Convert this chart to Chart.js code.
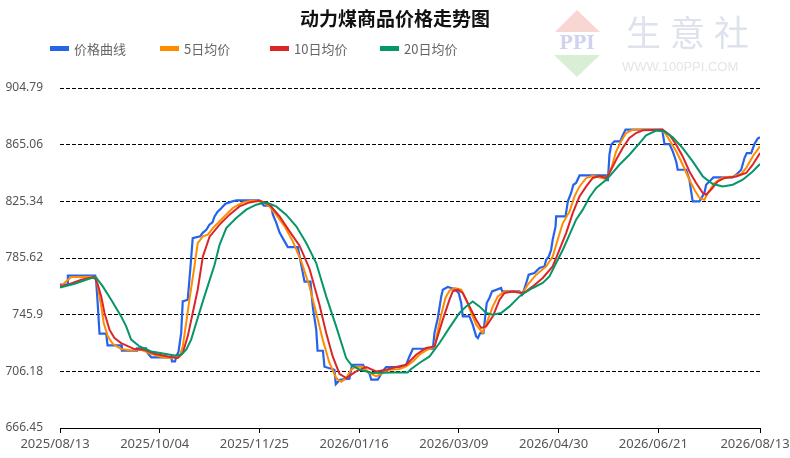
<!DOCTYPE html>
<html>
<head>
<meta charset="utf-8">
<script src="https://cdn.jsdelivr.net/npm/chart.js@4"></script>
<style>
  html, body { margin: 0; padding: 0; background: #fff; }
  #wrap { width: 790px; height: 458px; position: relative; }
</style>
</head>
<body>
<div id="wrap"><canvas id="coalChart"></canvas></div>
<script>
// Values: [day since 2025/08/13, price]
const xTickDays = [0, 52, 104, 156, 208, 260, 312, 365];
const xTickLabels = ['2025/08/13', '2025/10/04', '2025/11/25', '2026/01/16', '2026/03/09', '2026/04/30', '2026/06/21', '2026/08/13'];
const yTickValues = [666.45, 706.18, 745.9, 785.62, 825.34, 865.06, 904.79];
const yTickLabels = ['666.45', '706.18', '745.9', '785.62', '825.34', '865.06', '904.79'];

const seriesNames = ['价格曲线', '5日均价', '10日均价', '20日均价'];

const pricePoints = [
  [0,766.9],[4.1,766.9],[4.1,773.2],[18.4,773.2],[18.8,770.4],[19.7,752.9],[20.6,732.6],[24.1,732.6],
  [24.8,724.4],[31.9,724.4],[32.3,720.6],[39.7,720.6],[40.1,722.3],[44.9,722.3],[45.6,719.2],[47.6,716.0],
  [58.0,716.0],[58.4,713.1],[60.0,713.1],[60.6,716.6],[61.8,719.9],[63.2,733.3],[64.0,755.2],[66.6,756.4],
  [68.0,778.8],[69.2,799.6],[73.1,800.8],[74.3,803.1],[76.4,805.5],[77.9,809.0],[79.5,810.6],[80.6,814.8],
  [82.1,817.9],[84.2,820.7],[86.3,823.7],[89.9,825.3],[92.0,826.0],[104.0,826.0],[106.3,822.3],[110.1,822.3],
  [111.0,816.0],[112.7,810.6],[114.5,803.4],[117.1,797.3],[118.8,793.3],[124.0,793.3],[125.8,780.9],[127.5,769.0],
  [130.6,769.0],[131.8,751.5],[133.6,735.4],[134.3,720.6],[137.1,720.6],[137.9,709.4],[143.1,707.3],[143.8,697.2],
  [146.0,700.3],[150.9,701.0],[152.3,710.8],[158.0,710.8],[159.5,707.3],[161.4,704.5],[162.3,700.3],[165.7,700.3],
  [167.5,704.5],[169.2,707.8],[170.1,709.2],[178.7,709.2],[180.5,710.8],[182.2,716.6],[184.0,722.0],[194.4,722.0],
  [195.3,733.3],[197.0,743.6],[198.8,758.7],[199.6,763.4],[202.2,765.3],[204.0,764.6],[205.7,763.9],[207.9,761.1],
  [209.2,754.1],[210.0,744.7],[213.5,744.7],[215.2,738.9],[217.0,730.7],[217.9,729.5],[219.1,733.0],[220.8,733.0],
  [222.5,754.1],[223.9,757.6],[225.3,762.2],[230.0,764.6],[230.6,762.2],[239.6,762.2],[241.0,759.9],[241.7,762.2],
  [243.1,768.1],[244.4,773.9],[247.4,775.1],[250.0,778.6],[252.6,779.7],[253.5,784.4],[254.9,786.7],[256.1,791.4],
  [256.9,798.4],[258.4,807.8],[258.7,814.8],[263.6,814.8],[264.8,825.3],[266.5,831.2],[267.7,837.0],[269.1,838.2],
  [270.9,843.5],[284.8,843.5],[285.2,840.2],[285.7,840.2],[286.5,858.0],[287.4,865.0],[289.1,867.4],[292.1,867.4],
  [293.4,871.6],[294.9,875.6],[314.0,875.6],[315.2,865.5],[317.8,865.5],[319.5,860.4],[321.3,853.3],[322.1,847.5],
  [326.5,847.5],[328.2,840.5],[329.1,832.3],[329.9,825.3],[333.4,825.3],[336.0,831.2],[336.9,837.0],[339.5,840.5],
  [340.7,842.1],[350.8,842.1],[352.6,844.0],[355.2,847.5],[356.9,855.7],[358.1,859.2],[360.4,859.2],[362.1,865.5],
  [363.8,869.3],[365,870.3]
];

const ma5Points = [
  [0,765.5],[2.3,768.1],[5.8,772.3],[18.0,772.5],[19.4,768.1],[21.5,751.7],[22.8,740.1],[24.9,730.7],
  [27.5,725.5],[31.9,721.8],[37.1,720.8],[42.3,721.3],[47.6,718.5],[52.8,716.2],[58.0,715.5],[62.3,716.6],
  [64.0,723.6],[65.8,740.1],[67.5,756.4],[70.1,779.7],[71.8,796.1],[74.5,800.8],[77.1,802.0],[79.7,806.6],
  [84.9,813.7],[90.1,820.7],[95.3,824.6],[100.5,826.0],[105.7,825.1],[109.2,821.8],[112.7,816.0],[117.1,807.8],
  [121.4,797.3],[125.8,783.3],[130.1,765.7],[133.6,747.1],[137.0,728.4],[140.5,712.0],[144.0,701.5],[146.6,698.9],
  [149.2,701.3],[151.8,707.3],[154.4,709.6],[157.9,709.2],[161.4,705.0],[164.9,702.6],[168.3,705.0],[171.8,707.3],
  [177.0,707.8],[180.5,709.6],[184.0,713.1],[187.4,717.8],[190.9,720.9],[195.3,723.6],[197.1,735.4],[198.4,743.8],
  [201.0,757.8],[203.1,762.7],[205.7,764.6],[209.2,763.4],[211.8,756.4],[214.4,747.1],[217.0,738.9],[220.4,733.1],
  [223.1,742.4],[225.7,751.7],[228.3,758.7],[231.8,762.2],[237.9,762.2],[241.3,761.1],[243.9,766.9],[248.3,773.9],
  [253.5,779.7],[256.9,786.7],[259.5,798.4],[262.2,810.1],[265.7,818.3],[268.3,828.8],[270.9,835.8],[274.4,841.7],
  [277.8,843.3],[284.8,841.0],[287.5,848.7],[290.0,860.4],[292.6,867.4],[295.2,873.2],[298.7,875.6],[313.5,875.6],
  [316.1,872.1],[318.7,866.2],[321.3,860.4],[324.7,851.0],[328.2,840.5],[330.8,833.5],[333.5,827.7],[336.0,826.5],
  [337.8,831.2],[341.3,838.2],[345.6,842.1],[350.8,842.8],[355.2,844.5],[357.8,848.7],[361.2,856.8],[365,863.9]
];

const ma10Points = [
  [0,765.7],[4.1,766.9],[11.1,770.4],[18.0,772.3],[19.7,766.9],[21.5,758.7],[23.2,747.1],[25.8,735.4],
  [28.4,729.5],[31.9,726.0],[38.8,721.8],[44.1,721.3],[49.3,718.5],[56.2,716.6],[61.4,715.5],[64.0,719.0],
  [66.6,730.7],[69.2,747.1],[71.8,763.4],[74.5,786.7],[78.0,800.6],[83.2,809.0],[88.4,816.0],[93.6,821.8],
  [98.8,824.6],[104.0,825.8],[109.2,823.0],[114.5,814.8],[119.7,804.3],[124.9,794.3],[130.1,778.1],[135.3,752.9],
  [138.8,733.1],[142.2,716.6],[145.7,704.5],[149.2,701.5],[154.4,706.1],[159.7,709.1],[164.9,706.1],[170.1,707.3],
  [175.3,709.2],[180.5,710.8],[185.7,717.8],[190.9,722.5],[195.3,723.6],[199.6,742.4],[203.1,756.4],[204.8,762.2],
  [207.4,763.4],[210.0,761.1],[213.5,751.7],[217.0,742.4],[219.6,736.6],[222.2,737.7],[225.7,744.7],[229.2,756.4],
  [231.8,761.1],[236.1,762.2],[240.5,761.1],[243.1,762.2],[246.5,765.7],[251.7,771.6],[256.9,779.7],[260.4,791.4],
  [263.9,803.1],[267.4,817.2],[270.9,828.8],[274.4,835.8],[277.8,841.7],[281.3,843.0],[284.8,841.7],[286.5,845.2],
  [290.0,854.5],[293.4,862.7],[296.9,869.7],[300.4,873.2],[303.9,875.1],[314.3,875.6],[317.8,872.1],[321.3,865.0],
  [324.7,856.8],[328.2,846.3],[331.7,838.2],[335.2,831.2],[336.9,830.0],[339.5,833.5],[343.0,839.3],[346.4,841.7],
  [352.6,842.8],[357.8,845.2],[361.2,851.0],[365,859.2]
];

const ma20Points = [
  [0,765.0],[7.6,767.6],[16.3,771.6],[18.9,771.8],[22.3,765.7],[26.7,756.4],[31.9,744.7],[34.5,737.7],
  [37.1,728.4],[41.5,723.6],[47.6,720.1],[54.5,718.5],[59.7,717.3],[63.2,717.8],[65.8,721.3],[68.4,728.4],
  [71.8,743.6],[75.3,758.7],[80.6,780.9],[83.2,794.9],[86.7,806.6],[91.9,813.7],[97.1,819.5],[102.3,823.0],
  [107.5,824.6],[112.7,821.8],[117.9,816.0],[123.2,807.8],[128.4,796.1],[133.6,782.1],[138.8,758.7],[144.0,737.7],
  [149.2,715.5],[151.8,710.8],[156.2,707.3],[163.1,705.0],[173.5,705.4],[181.3,705.4],[183.1,707.8],[187.4,712.0],
  [192.7,716.6],[197.9,726.0],[203.1,736.8],[208.3,747.1],[211.8,751.7],[215.2,755.2],[218.7,751.7],[222.2,747.1],
  [225.7,745.9],[230.0,747.1],[234.4,751.7],[239.6,758.7],[242.2,761.1],[246.5,764.6],[251.7,768.1],[255.2,772.7],
  [258.7,782.1],[262.2,791.4],[265.7,802.0],[269.1,812.5],[272.6,819.5],[276.1,828.2],[279.6,834.7],[284.8,840.5],
  [286.5,842.8],[291.7,851.0],[296.9,858.0],[302.2,866.2],[305.6,871.6],[310.9,874.9],[315.2,874.4],[319.5,870.2],
  [324.7,862.7],[329.9,853.3],[335.2,842.8],[340.4,837.5],[345.6,835.8],[350.8,837.0],[356.0,840.5],[361.2,846.3],
  [365,851.5]
];

const seriesColors = ['#2563EB', '#FF8C00', '#DC2626', '#059669'];

function toXY(points) {
  return points.map(p => ({ x: p[0], y: p[1] }));
}

// Title, legend and the watermark are drawn by hand to sit where the original has them
const decorPlugin = {
  id: 'decor',
  beforeDraw(chart) {
    const c = chart.ctx;
    c.save();
    // watermark diamond
    c.fillStyle = '#f8d6d1';
    c.beginPath(); c.moveTo(555, 32); c.lineTo(577, 10); c.lineTo(600, 32); c.closePath(); c.fill();
    c.fillStyle = '#d8efd6';
    c.beginPath(); c.moveTo(554, 55); c.lineTo(600, 55); c.lineTo(577, 77); c.closePath(); c.fill();
    c.fillStyle = '#cfd3ee';
    c.font = 'bold 18px "DejaVu Serif"';
    c.textAlign = 'center';
    c.textBaseline = 'middle';
    c.fillText('PPI', 577, 44);
    c.fillStyle = '#dde2ec';
    c.font = '35px "Noto Sans CJK SC"';
    c.textAlign = 'left';
    c.fillText('生', 626, 33);
    c.fillText('意', 670, 33);
    c.fillText('社', 714, 33);
    c.fillStyle = '#e2e5ea';
    c.font = '13px "Liberation Sans"';
    c.fillText('WWW.100PPI.COM', 622, 67);
    c.restore();
  },
  afterDraw(chart) {
    const c = chart.ctx;
    c.save();
    c.fillStyle = '#111';
    c.font = 'bold 19px "Noto Sans CJK SC"';
    c.textAlign = 'center';
    c.textBaseline = 'middle';
    c.fillText('动力煤商品价格走势图', 395, 19);
    c.font = '13px "Noto Sans CJK SC"';
    c.textAlign = 'left';
    chart.data.datasets.forEach((ds, i) => {
      const x0 = 50 + i * 110;
      c.fillStyle = ds.borderColor;
      c.fillRect(x0, 46, 19, 5);
      c.fillStyle = '#666';
      c.fillText(ds.label, x0 + 24, 49);
    });
    c.restore();
  }
};

const datasetsList = [pricePoints, ma5Points, ma10Points, ma20Points].map((pts, i) => ({
  label: seriesNames[i],
  data: toXY(pts),
  borderColor: seriesColors[i],
  backgroundColor: seriesColors[i],
  borderWidth: i === 0 ? 2.2 : 2,
  pointRadius: 0,
  tension: 0,
  order: 4 - i
}));

const config = {
  type: 'line',
  data: { datasets: datasetsList },
  options: {
    responsive: true,
    maintainAspectRatio: false,
    animation: false,
    layout: { padding: { top: 88, right: 30, bottom: 0, left: 0 } },
    plugins: {
      legend: { display: false },
      title: { display: false },
      tooltip: { enabled: false }
    },
    scales: {
      x: {
        type: 'linear',
        min: 0,
        max: 365,
        afterBuildTicks: function(scale) {
          scale.ticks = xTickDays.map(v => ({ value: v }));
        },
        afterFit: function(scale) {
          scale.height = 30;
          scale.paddingLeft = 0;
          scale.paddingRight = 0;
        },
        ticks: {
          autoSkip: false,
          maxRotation: 0,
          padding: 3,
          labelOffset: -5,
          color: '#555',
          font: { family: '"Noto Sans", "Noto Sans CJK SC"', size: 13 },
          callback: function(value, index) {
            return xTickLabels[index];
          }
        },
        grid: { drawOnChartArea: false, drawTicks: true, tickLength: 5, color: '#000' },
        border: { display: true, color: '#000', width: 1 }
      },
      y: {
        min: 666.45,
        max: 904.79,
        afterBuildTicks: function(scale) {
          scale.ticks = yTickValues.map(v => ({ value: v }));
        },
        afterFit: function(scale) {
          scale.width = 60;
        },
        ticks: {
          padding: 17,
          color: '#555',
          font: { family: '"Noto Sans", "Noto Sans CJK SC"', size: 12 },
          callback: function(value, index) {
            return yTickLabels[index];
          }
        },
        grid: { color: '#000', lineWidth: 1, drawTicks: false },
        border: { display: false, dash: [4, 2] }
      }
    }
  },
  plugins: [decorPlugin]
};

const ctx = document.getElementById('coalChart').getContext('2d');
const coalChart = new Chart(ctx, config);
</script>
</body>
</html>
